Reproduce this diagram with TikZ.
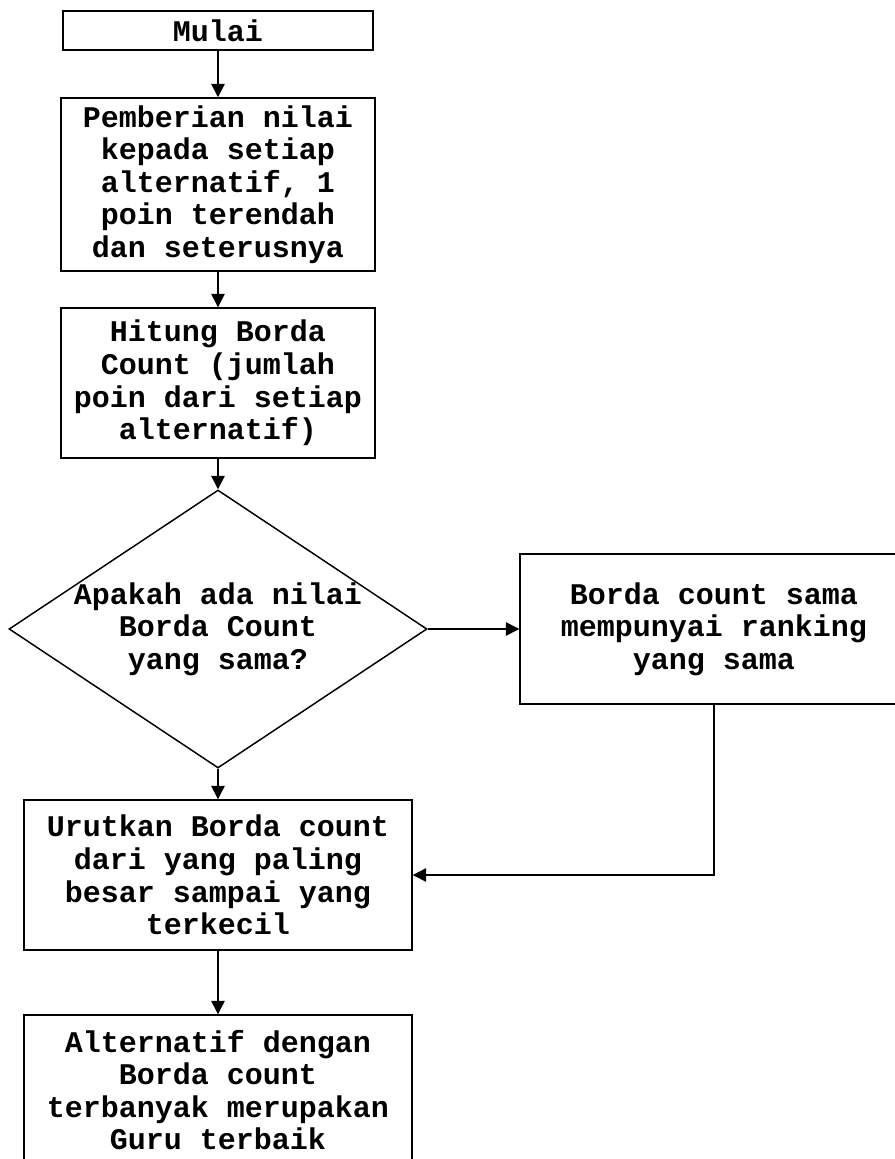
\documentclass[tikz,border=0pt]{standalone}
\usepackage{fontspec}
\setmonofont{Liberation Mono}
\usetikzlibrary{shapes.geometric,arrows.meta}

\tikzset{every picture/.style={line width=1.1pt}}
\tikzset{
	kotak/.style={draw, rectangle, inner sep=0pt, align=center, font=\ttfamily\bfseries\fontsize{22.5}{24.4}\selectfont},
	keputusan/.style={draw, diamond, aspect=1.5, inner sep=-4pt, minimum width=418*0.75pt, minimum height=278*0.75pt, align=center, font=\ttfamily\bfseries\fontsize{22.5}{24.4}\selectfont},
	panah/.style={-{Triangle[length=10pt,width=10pt]}}
}

\begin{document}
\begin{tikzpicture}[x=0.75pt,y=0.75pt,yscale=-1,xscale=1]
	\useasboundingbox (0,0) rectangle (895,1159);
	\clip (0,0) rectangle (895,1159);

	% Mulai
	\node[kotak, minimum width=310*0.75pt, minimum height=39*0.75pt] (mulai) at (218,30.5) {Mulai};
	% Pemberian nilai
	\node[kotak, minimum width=314*0.75pt, minimum height=173*0.75pt] (beri) at (218,184.5) {Pemberian nilai\\kepada setiap\\alternatif, 1\\poin terendah\\dan seterusnya};
	% Hitung Borda Count
	\node[kotak, minimum width=314*0.75pt, minimum height=150*0.75pt] (hitung) at (218,383) {Hitung Borda\\Count (jumlah\\poin dari setiap\\alternatif)};
	% Decision
	\node[keputusan] (cek) at (218,629) {Apakah ada nilai\\Borda Count\\yang sama?};
	% Borda count sama
	\node[kotak, minimum width=388*0.75pt, minimum height=150*0.75pt] (sama) at (714,629) {Borda count sama\\mempunyai ranking\\yang sama};
	% Urutkan
	\node[kotak, minimum width=388*0.75pt, minimum height=150*0.75pt] (urut) at (218,875) {Urutkan Borda count\\dari yang paling\\besar sampai yang\\terkecil};
	% Alternatif terbaik
	\node[kotak, minimum width=388*0.75pt, minimum height=150*0.75pt] (hasil) at (218,1090) {Alternatif dengan\\Borda count\\terbanyak merupakan\\Guru terbaik};

	% Connectors
	\draw[panah] (mulai) -- (beri);
	\draw[panah] (beri) -- (hitung);
	\draw[panah] (hitung) -- (cek);
	\draw[panah] (cek.east) -- (sama.west);
	\draw[panah] (cek.south) -- (urut.north);
	\draw[panah] (sama.south) |- (urut.east);
	\draw[panah] (urut) -- (hasil);

\end{tikzpicture}
\end{document}
